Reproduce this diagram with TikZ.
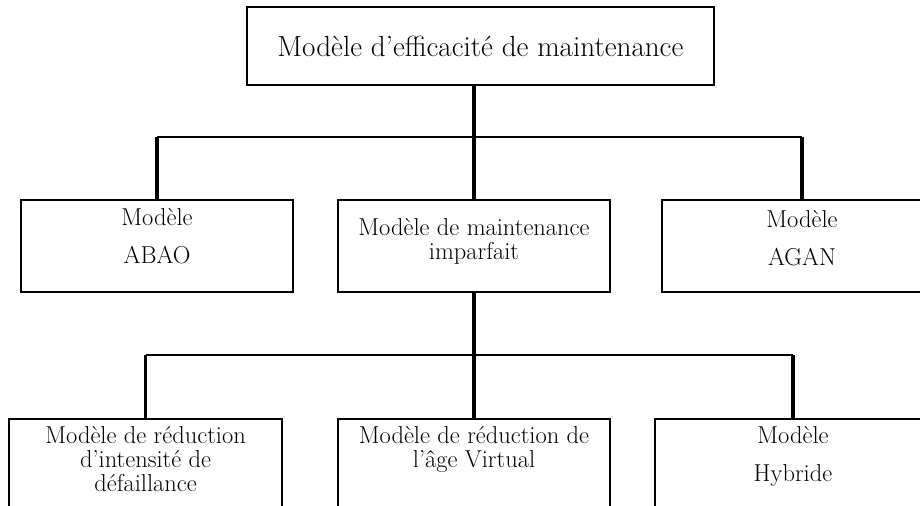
\documentclass[tikz,border=0pt]{standalone}
\usetikzlibrary{positioning}
\newcommand{\titletxt}{\fontsize{20.7}{22}\selectfont}
\newcommand{\boxtxt}{\fontsize{17.4}{17}\selectfont}
% #1 total height, #2 first baseline below the top edge, #3 text
\newcommand{\intxt}[3]{\parbox[t][#1][t]{6.3cm}{\centering\rule{0pt}{#2}#3}}
\begin{document}
\begin{tikzpicture}[
    box/.style={draw, line width=1.3pt, anchor=north, inner sep=0pt, text=black, font=\boxtxt},
    vlink/.style={line width=2.4pt},
    hlink/.style={line width=1.2pt}
]
    \useasboundingbox (0,0) rectangle (23,-12.65);
    \clip (0,0) rectangle (23,-12.65);

    % top
    \node[box, anchor=center, font=\titletxt, minimum width=11.675cm, minimum height=1.95cm] (top) at (12.01,-1.15) {Modèle d’efficacité de maintenance};

    % second level
    \node[box, minimum width=6.8cm] (abao) at (3.925,-4.975) {\intxt{2.3cm}{0.65cm}{Modèle\\[0.33cm]ABAO}};
    \node[box, minimum width=6.8cm] (imparf) at (11.85,-4.975) {\intxt{2.3cm}{0.9cm}{Modèle de maintenance\\imparfait}};
    \node[box, minimum width=7cm] (agan) at (20.05,-4.975) {\intxt{2.3cm}{0.7cm}{Modèle\\[0.33cm]AGAN}};

    % third level
    \node[box, minimum width=6.825cm] (intens) at (3.64,-10.45) {\intxt{3.5cm}{0.625cm}{Modèle de réduction\\d’intensité de\\défaillance}};
    \node[box, minimum width=6.8cm] (agevirt) at (11.85,-10.45) {\intxt{3.5cm}{0.625cm}{Modèle de réduction de\\l’âge Virtual}};
    \node[box, minimum width=6.9cm] (hybride) at (19.825,-10.45) {\intxt{3.5cm}{0.625cm}{Modèle\\[0.33cm]Hybride}};

    \coordinate (bar1) at (0,-3.425);
    \coordinate (bar2) at (0,-8.875);

    \draw[vlink] (imparf.north |- top.south) -- (imparf.north);
    \draw[hlink] (bar1 -| abao.north) -- (bar1 -| agan.north);
    \draw[vlink] (bar1 -| abao.north) -- (abao.north);
    \draw[vlink] (bar1 -| agan.north) -- (agan.north);

    \draw[vlink] (imparf.south) -- (agevirt.north);
    \draw[hlink] (bar2 -| intens.north) -- (bar2 -| hybride.north);
    \draw[vlink] (bar2 -| intens.north) -- (intens.north);
    \draw[vlink] (bar2 -| hybride.north) -- (hybride.north);
\end{tikzpicture}
\end{document}
